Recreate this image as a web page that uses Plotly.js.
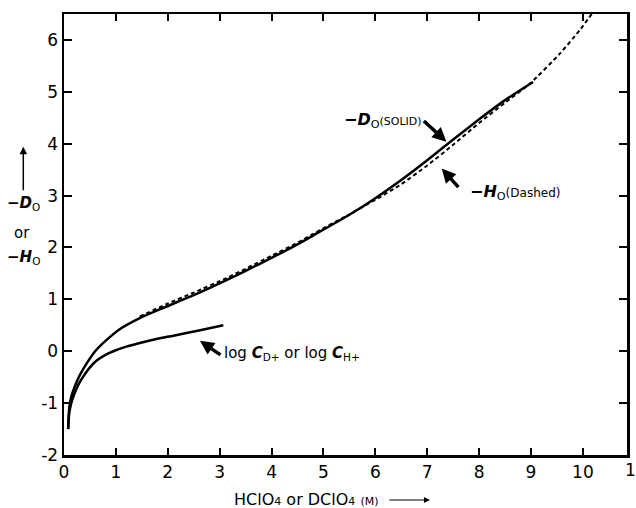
<!DOCTYPE html>
<html>
<head>
<meta charset="utf-8">
<script src="https://cdn.plot.ly/plotly-3.0.1.min.js"></script>
<style>html,body{margin:0;padding:0;background:#fff;}#chart{width:636px;height:508px;}</style>
</head>
<body>
<div id="chart"></div>
<script>
// -D0 (solid)
var solidX = [0.08,0.1,0.14,0.2,0.3,0.44,0.6,0.8,1.08,1.46,1.85,2.5,3.13,3.5,4,4.5,4.8,5.5,6,6.5,7,7.5,8,8.5,9.04];
var solidY = [-1.5,-1.1,-0.88,-0.7,-0.47,-0.23,0.0,0.2,0.43,0.64,0.81,1.08,1.37,1.55,1.8,2.06,2.23,2.63,2.95,3.3,3.68,4.08,4.47,4.84,5.19];
// -H0 (dashed)
var dashX = [1.46,2,2.5,3.13,3.5,4,4.5,4.8,5.5,6,6.5,7,7.5,8,8.5,8.98,9.56,9.94,10.17];
var dashY = [0.67,0.92,1.13,1.41,1.59,1.84,2.09,2.26,2.64,2.92,3.22,3.58,3.98,4.4,4.79,5.16,5.74,6.19,6.5];
// log C_D+ or log C_H+
var logX = [0.08,0.1,0.14,0.2,0.28,0.37,0.5,0.63,0.8,0.95,1.2,1.46,1.8,2.11,2.6,3.07];
var logY = [-1.5,-1.2,-1.0,-0.82,-0.64,-0.49,-0.31,-0.18,-0.07,0.0,0.09,0.16,0.24,0.3,0.4,0.5];

var xTickVals = [0,1,2,3,4,5,6,7,8,9,10];
var xTickText = ['0','1','2','3','4','5','6','7','8','9','10'];
var yTickVals = [-2,-1,0,1,2,3,4,5,6];
var yTickText = ['-2','-1','0','1','2','3','4','5','6'];

var FONT = 'DejaVu Sans, Liberation Sans, sans-serif';

var traces = [
  {x: solidX, y: solidY, mode: 'lines', line: {color: '#000', width: 2.5, shape: 'spline', smoothing: 0.6}, hoverinfo: 'skip'},
  {x: dashX, y: dashY, mode: 'lines', line: {color: '#000', width: 2, dash: '4px,3px', shape: 'spline', smoothing: 0.6}, hoverinfo: 'skip'},
  {x: logX, y: logY, mode: 'lines', line: {color: '#000', width: 2.5, shape: 'spline', smoothing: 0.6}, hoverinfo: 'skip'}
];

var ann = [
  // y-axis title pieces
  {xref: 'paper', yref: 'paper', x: -0.0723, y: 0.699, ax: 0, ay: 45, text: '', showarrow: true, arrowhead: 2, arrowsize: 1, arrowwidth: 1.5, arrowcolor: '#000'},
  {xref: 'paper', yref: 'paper', x: -0.072, y: 0.571, xanchor: 'center', yanchor: 'middle', text: '<b>−<i>D</i></b><sub>O</sub>', showarrow: false, font: {family: FONT, size: 15, color: '#000'}},
  {xref: 'paper', yref: 'paper', x: -0.074, y: 0.503, xanchor: 'center', yanchor: 'middle', text: 'or', showarrow: false, font: {family: FONT, size: 15, color: '#000'}},
  {xref: 'paper', yref: 'paper', x: -0.072, y: 0.447, xanchor: 'center', yanchor: 'middle', text: '<b>−<i>H</i></b><sub>O</sub>', showarrow: false, font: {family: FONT, size: 15, color: '#000'}},
  // x-axis title
  {xref: 'paper', yref: 'paper', x: 0.298, y: -0.100, xanchor: 'left', yanchor: 'middle', text: 'HClO<span style="font-size:11px">4</span> or DClO<span style="font-size:11px">4</span> <span style="font-size:11px">(M)</span>', showarrow: false, font: {family: FONT, size: 16, color: '#000'}},
  {xref: 'paper', yref: 'paper', x: 0.650, y: -0.102, ax: -42, ay: 0, text: '', showarrow: true, arrowhead: 2, arrowsize: 1, arrowwidth: 1.2, arrowcolor: '#000'},
  // cut-off "11" tick at right edge
  {xref: 'paper', yref: 'paper', x: 1.0165, y: -0.034, xanchor: 'center', yanchor: 'middle', text: '11', showarrow: false, font: {family: FONT, size: 17, color: '#000'}},
  // -D0 (SOLID)
  {x: 5.36, y: 4.45, xanchor: 'left', yanchor: 'middle', text: '<b>−<i>D</i></b><sub>O</sub><span style="font-size:11px">(SOLID)</span>', showarrow: false, font: {family: FONT, size: 16, color: '#000'}},
  {x: 7.37, y: 4.04, ax: -24, ay: -22, text: '', showarrow: true, arrowhead: 2, arrowsize: 0.8, arrowwidth: 3.5, arrowcolor: '#000'},
  // -H0 (Dashed)
  {x: 7.78, y: 3.05, xanchor: 'left', yanchor: 'middle', text: '<b>−<i>H</i></b><sub>O</sub><span style="font-size:12px">(Dashed)</span>', showarrow: false, font: {family: FONT, size: 16, color: '#000'}},
  {x: 7.28, y: 3.52, ax: 18, ay: 20, text: '', showarrow: true, arrowhead: 2, arrowsize: 0.8, arrowwidth: 3.5, arrowcolor: '#000'},
  // log C
  {x: 3.04, y: -0.05, xanchor: 'left', yanchor: 'middle', text: 'log <b><i>C</i></b><sub>D+</sub> or log <b><i>C</i></b><sub>H+</sub>', showarrow: false, font: {family: FONT, size: 15, color: '#000'}},
  {x: 2.62, y: 0.2, ax: 22, ay: 15, text: '', showarrow: true, arrowhead: 2, arrowsize: 0.8, arrowwidth: 3.5, arrowcolor: '#000'}
];

var layout = {
  width: 636, height: 508,
  margin: {l: 64, r: 9, t: 14, b: 53},
  paper_bgcolor: '#fff', plot_bgcolor: '#fff',
  showlegend: false,
  font: {family: FONT, color: '#000'},
  xaxis: {
    range: [0, 10.85], showgrid: false, zeroline: false,
    showline: true, linecolor: '#000', linewidth: 2.5, mirror: 'ticks',
    ticks: 'inside', ticklen: 7, tickwidth: 2, tickcolor: '#000',
    tickmode: 'array', tickvals: xTickVals, ticktext: xTickText,
    tickfont: {family: FONT, size: 17, color: '#000'}
  },
  yaxis: {
    range: [-2, 6.5], showgrid: false, zeroline: false,
    showline: true, linecolor: '#000', linewidth: 2.5, mirror: 'ticks',
    ticks: 'inside', ticklen: 8, tickwidth: 2, tickcolor: '#000',
    tickmode: 'array', tickvals: yTickVals, ticktext: yTickText,
    tickfont: {family: FONT, size: 17, color: '#000'}
  },
  annotations: ann
};

Plotly.newPlot('chart', traces, layout, {displayModeBar: false, staticPlot: true});
</script>
</body>
</html>
